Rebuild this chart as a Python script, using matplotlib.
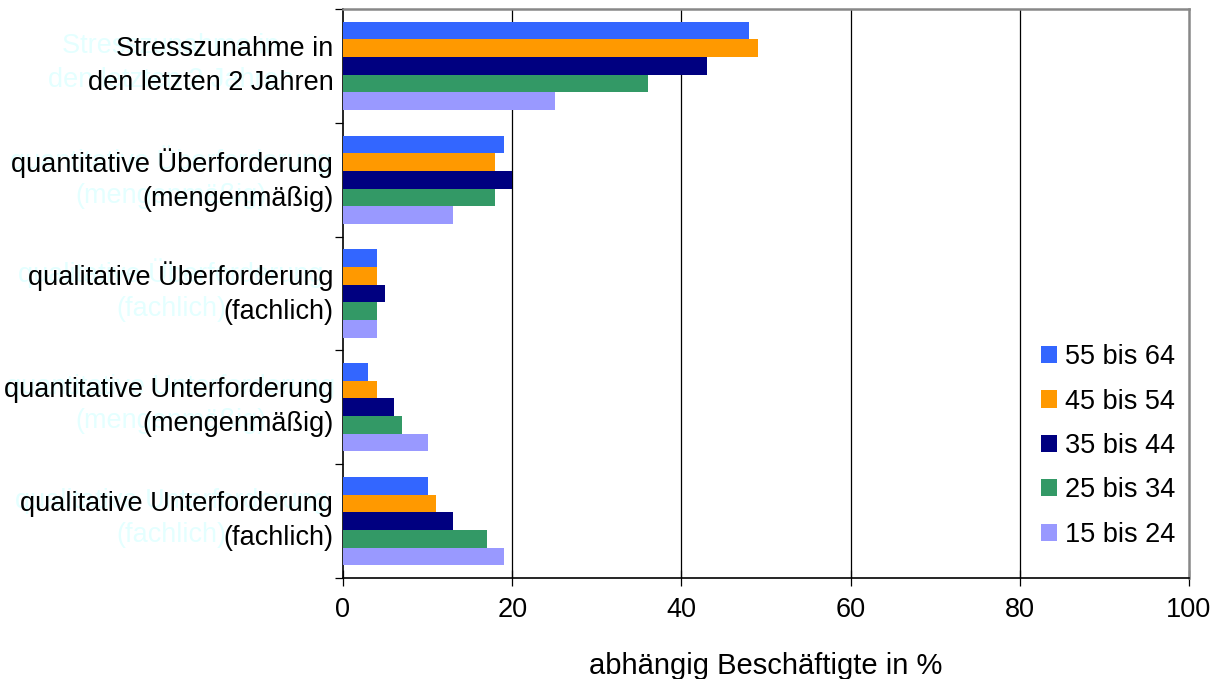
import matplotlib
matplotlib.use('Agg')
from matplotlib import pyplot as plt
from matplotlib.ticker import FixedLocator
from matplotlib.transforms import ScaledTranslation
import numpy as np

# ********** Data **********

categories = [
	'Stresszunahme in\nden letzten 2 Jahren',
	'quantitative Überforderung\n(mengenmäßig)',
	'qualitative Überforderung\n(fachlich)',
	'quantitative Unterforderung\n(mengenmäßig)',
	'qualitative Unterforderung\n(fachlich)'
]

age_groups = ['55 bis 64', '45 bis 54', '35 bis 44', '25 bis 34', '15 bis 24']

share_55_64 = [48, 19, 4, 3, 10]
share_45_54 = [49, 18, 4, 4, 11]
share_35_44 = [43, 20, 5, 6, 13]
share_25_34 = [36, 18, 4, 7, 17]
share_15_24 = [25, 13, 4, 10, 19]

x_ticks = [0, 20, 40, 60, 80, 100]
x_label = 'abhängig Beschäftigte in %'

# ********** Style **********

series = [share_55_64, share_45_54, share_35_44, share_25_34, share_15_24]
bar_colors = ['#3366FF', '#FF9900', '#000080', '#339966', '#9999FF']
ghost_color = '#e4ffff'
font = ['Liberation Sans', 'DejaVu Sans']
font_size = 19.5

plt.rcParams['font.family'] = font

fig = plt.figure(figsize=(12.24, 6.79), dpi=100)
ax = fig.add_axes([343/1224, 1-578/679, (1189-343)/1224, (578-9)/679])

bar_height = 0.155
centers = np.arange(len(categories)) + 0.5
for i, (values, color) in enumerate(zip(series, bar_colors)):
	offset = (i - 2) * bar_height
	ax.barh(centers + offset, values, height=bar_height, color=color,
		label=age_groups[i], zorder=3, linewidth=0)

ax.set_xlim(0, 100)
ax.set_ylim(len(categories), 0)

# vertical gridlines
for x in x_ticks[1:-1]:
	ax.axvline(x, color='black', linewidth=0.9, zorder=1)

# ticks: x crossing the axis, y ticks on category boundaries
ax.set_xticks(x_ticks)
ax.tick_params(axis='x', direction='inout', length=11, width=0.9, pad=8,
	labelsize=font_size, colors='black')
ax.yaxis.set_major_locator(FixedLocator(range(len(categories) + 1)))
ax.yaxis.set_major_formatter(plt.NullFormatter())
ax.yaxis.set_minor_locator(FixedLocator(centers))
ax.set_yticklabels(categories, minor=True)
ax.tick_params(axis='y', which='major', direction='out', length=6, width=0.9)
ax.tick_params(axis='y', which='minor', length=0, pad=7, labelsize=font_size)
lift = ScaledTranslation(0, 7/100, fig.dpi_scale_trans)
for lbl in ax.get_yticklabels(minor=True):
	lbl.set_linespacing(1.4)
	lbl.set_horizontalalignment('right')
	lbl.set_multialignment('right')
	lbl.set_transform(lbl.get_transform() + lift)

# faint shadow copies of the category labels
for c, text in zip(centers, categories):
	y_fig = ax.transData.transform((0, c))[1]
	ax.annotate(text, xy=(171, y_fig + 3), xycoords='figure pixels',
		ha='center', va='center', color=ghost_color, fontsize=font_size,
		linespacing=1.4, zorder=0, annotation_clip=False)

ax.set_xlabel(x_label, fontsize=21, labelpad=21)

for side in ['top', 'right']:
	ax.spines[side].set_color('#888888')
	ax.spines[side].set_linewidth(1.8)
for side in ['left', 'bottom']:
	ax.spines[side].set_color('black')
	ax.spines[side].set_linewidth(1.2)

leg = ax.legend(loc='center left', bbox_to_anchor=(1030/1224, 1-446/679),
	bbox_transform=fig.transFigure, frameon=False, fontsize=font_size,
	handlelength=0.6, handleheight=0.6, handletextpad=0.3, labelspacing=0.68,
	borderaxespad=0)

fig.savefig('out.png', dpi=100)
